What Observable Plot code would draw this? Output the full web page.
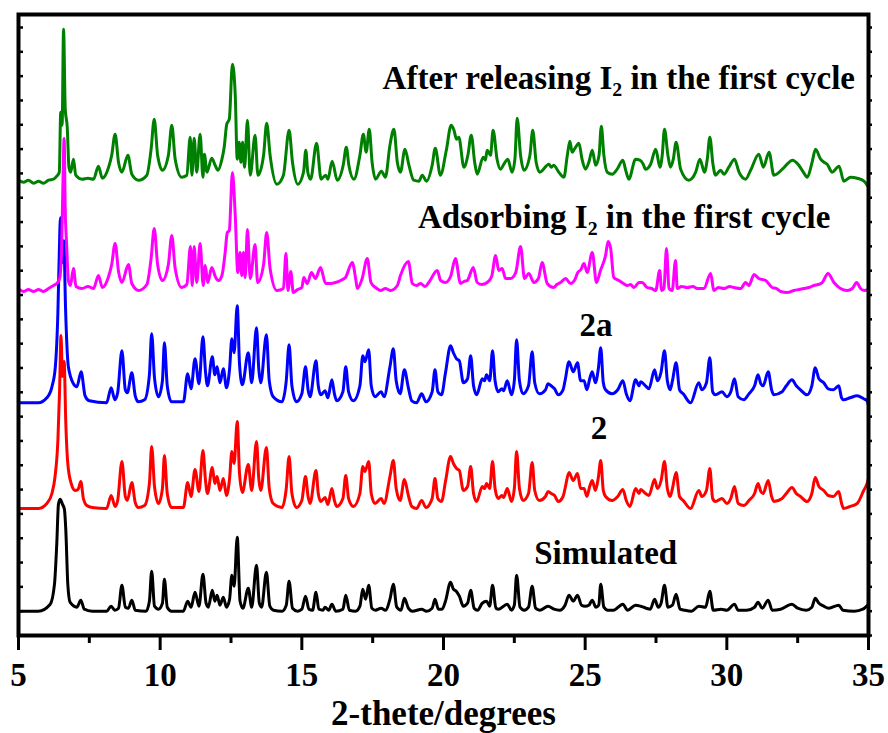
<!DOCTYPE html>
<html>
<head>
<meta charset="utf-8">
<script src="https://cdn.jsdelivr.net/npm/d3@7"></script>
<script src="https://cdn.jsdelivr.net/npm/@observablehq/plot@0.6"></script>
<style>
  html, body { margin: 0; padding: 0; background: #fff; }
  #chart { width: 888px; height: 733px; }
</style>
</head>
<body>
<div id="chart"></div>
<script>
// Powder XRD patterns, [2θ (deg), intensity above the pattern's own baseline (a.u.)]
const simulated = [
  [5,0],[5.7,0],[6.12,7],[6.27,27],[6.35,67],[6.41,107],[6.47,112],[6.55,107],[6.62,102],[6.67,81],[6.74,27],[6.82,9],[7.06,4],[7.2,11],[7.32,2],[7.6,0],
  [8.11,0],[8.27,5],[8.4,1],[8.53,3],[8.65,26],[8.77,4],[8.88,3],[9.0,11],[9.12,1],[9.5,0],[9.62,10],[9.7,40],[9.8,5],[9.94,2],[10.08,8],[10.15,32],[10.25,4],[10.4,0],
  [10.82,0],[10.97,10],[11.09,4],[11.23,19],[11.37,5],[11.51,37],[11.62,8],[11.7,4],[11.84,21],[11.93,10],[12.01,16],[12.11,6],[12.23,14],[12.34,4],[12.45,12],[12.53,36],[12.61,25],[12.72,74],[12.82,10],[12.92,3],
  [13.11,23],[13.23,4],[13.4,46],[13.5,8],[13.58,4],[13.75,39],[13.87,5],[14.0,1],[14.3,0],[14.45,6],[14.55,30],[14.67,3],[14.85,0],[15.0,2],[15.13,15],[15.25,2],[15.38,1],[15.5,19],[15.6,2],[15.75,1],[15.82,4],[15.95,1],
  [16.06,7],[16.2,0],[16.45,2],[16.55,16],[16.68,1],[16.9,0],[17.05,5],[17.15,22],[17.25,12],[17.36,26],[17.47,3],[17.6,1],[17.8,3],[17.95,1],[18.11,12],[18.23,27],[18.35,4],[18.5,1],[18.62,13],[18.76,3],[18.9,0],
  [19.23,2],[19.4,0],[19.6,3],[19.7,12],[19.82,2],[19.95,2],[20.07,10],[20.25,29],[20.35,22],[20.45,20],[20.56,15],[20.7,5],[20.85,8],[20.96,21],[21.08,3],[21.2,1],[21.37,8],[21.52,10],[21.63,5],[21.73,26],[21.85,3],[21.95,2],
  [22.25,7],[22.4,1],[22.5,6],[22.58,36],[22.7,4],[22.85,1],[23.0,4],[23.13,25],[23.25,3],[23.4,1],[23.69,5],[23.9,2],[24.1,1],[24.29,6],[24.43,16],[24.58,10],[24.73,16],[24.87,6],[25.0,5],[25.13,6],[25.25,11],[25.38,4],[25.48,6],[25.55,27],[25.66,4],[25.8,1],
  [26.0,1],[26.33,7],[26.5,1],[26.78,6],[26.96,5],[27.15,3],[27.3,2],[27.45,12],[27.58,4],[27.68,8],[27.8,26],[27.92,4],[28.08,6],[28.21,17],[28.35,2],[28.5,1],[28.75,0],[29.01,5],[29.25,4],[29.4,20],[29.52,1],[29.8,2],
  [30.0,1],[30.27,7],[30.4,1],[30.7,1],[30.98,4],[31.1,9],[31.25,3],[31.46,11],[31.6,1],[31.9,2],[32.3,7],[32.5,3],[32.8,1],[33.0,4],[33.12,13],[33.25,8],[33.42,5],[33.6,3],[33.95,6],[34.1,1],[34.5,0],[34.8,2],[35.0,7]
];

const compound2 = [
  [5,0],[5.7,0],[6.0,5],[6.18,15],[6.29,32],[6.39,68],[6.45,118],[6.5,173],[6.55,132],[6.61,147],[6.67,85],[6.74,45],[6.86,25],[7.0,18],[7.1,19],[7.2,27],[7.29,10],[7.41,3],[7.6,1],
  [8.11,0],[8.27,13],[8.41,2],[8.5,8],[8.65,47],[8.77,12],[8.84,8],[9.0,26],[9.12,6],[9.23,1],[9.45,3],[9.62,25],[9.7,62],[9.8,22],[9.94,5],[10.08,20],[10.15,53],[10.25,15],[10.4,1],
  [10.82,1],[10.97,26],[11.09,12],[11.23,39],[11.37,17],[11.51,58],[11.6,28],[11.67,15],[11.84,41],[11.93,25],[12.01,32],[12.11,18],[12.23,30],[12.34,13],[12.45,30],[12.53,57],[12.61,45],[12.72,87],[12.8,35],[12.9,16],
  [13.11,44],[13.23,18],[13.4,67],[13.48,30],[13.55,18],[13.75,61],[13.85,20],[13.99,5],[14.3,1],[14.45,20],[14.55,52],[14.65,15],[14.81,1],[15.0,8],[15.13,32],[15.22,12],[15.29,5],[15.5,38],[15.58,15],[15.67,7],[15.82,11],[15.92,4],
  [16.06,20],[16.15,8],[16.23,2],[16.45,10],[16.55,33],[16.65,10],[16.82,2],[17.05,15],[17.15,42],[17.23,37],[17.36,47],[17.45,15],[17.58,5],[17.8,10],[17.9,5],[18.11,32],[18.23,48],[18.33,20],[18.47,8],[18.62,29],[18.76,13],[18.88,2],
  [19.05,0],[19.23,8],[19.38,1],[19.6,10],[19.7,30],[19.8,10],[19.93,7],[20.07,27],[20.25,52],[20.35,45],[20.46,40],[20.56,38],[20.7,18],[20.85,22],[20.96,42],[21.06,15],[21.17,7],[21.37,22],[21.45,20],[21.52,25],[21.63,20],[21.73,47],[21.82,20],[21.93,10],
  [22.06,13],[22.12,11],[22.25,20],[22.4,7],[22.5,20],[22.58,57],[22.68,20],[22.81,8],[23.0,15],[23.13,46],[23.22,18],[23.38,8],[23.6,12],[23.69,17],[23.8,15],[23.92,13],[24.05,7],[24.22,12],[24.29,20],[24.43,36],[24.58,28],[24.73,35],[24.84,20],[24.96,20],
  [25.06,12],[25.16,22],[25.25,28],[25.36,18],[25.46,30],[25.55,48],[25.64,18],[25.72,12],[25.95,8],[26.15,12],[26.33,19],[26.45,8],[26.58,2],[26.78,20],[26.9,15],[26.96,19],[27.13,15],[27.25,13],[27.45,29],[27.55,20],[27.68,28],[27.8,47],[27.9,20],[28.0,12],
  [28.08,20],[28.21,36],[28.33,12],[28.46,8],[28.72,0],[29.01,18],[29.12,12],[29.28,18],[29.4,40],[29.5,10],[29.6,7],[29.83,10],[30.0,5],[30.14,10],[30.27,22],[30.4,5],[30.6,3],[30.78,8],[30.98,15],[31.1,25],[31.2,17],[31.28,15],[31.46,28],[31.58,12],[31.66,7],
  [31.95,10],[32.1,15],[32.3,21],[32.45,15],[32.6,12],[32.83,7],[33.0,15],[33.12,31],[33.25,22],[33.42,18],[33.58,13],[33.76,12],[33.95,17],[34.05,5],[34.12,0],[34.35,2],[34.6,5],[34.83,18],[34.95,25],[35.0,30]
];

const compound2a = [
  [5,0],[5.7,0],[6.0,5],[6.18,16],[6.3,36],[6.39,90],[6.44,150],[6.48,185],[6.53,140],[6.6,162],[6.66,95],[6.76,36],[6.94,19],[7.06,16],[7.21,31],[7.35,7],[7.5,2],
  [8.11,0],[8.27,15],[8.4,3],[8.5,10],[8.65,52],[8.77,13],[8.84,10],[9.0,30],[9.12,7],[9.23,1],[9.45,3],[9.62,28],[9.7,69],[9.8,25],[9.94,6],[10.08,22],[10.15,60],[10.25,17],[10.4,1],
  [10.82,1],[10.97,29],[11.09,14],[11.23,44],[11.37,19],[11.51,66],[11.6,31],[11.67,17],[11.84,46],[11.93,28],[12.01,36],[12.11,20],[12.23,34],[12.34,15],[12.45,34],[12.53,64],[12.61,50],[12.72,97],[12.8,39],[12.9,18],
  [13.11,50],[13.23,20],[13.4,75],[13.48,34],[13.55,20],[13.75,68],[13.85,22],[13.99,6],[14.3,1],[14.45,22],[14.55,58],[14.65,17],[14.81,1],[15.0,9],[15.13,36],[15.22,13],[15.29,6],[15.5,42],[15.58,17],[15.67,8],[15.82,12],[15.92,5],
  [16.06,23],[16.15,9],[16.23,2],[16.45,11],[16.55,36],[16.65,11],[16.82,2],[17.05,17],[17.15,47],[17.23,41],[17.36,53],[17.45,17],[17.58,6],[17.8,11],[17.9,6],[18.11,36],[18.23,54],[18.33,22],[18.47,9],[18.62,33],[18.76,15],[18.88,2],
  [19.05,0],[19.23,9],[19.38,1],[19.6,11],[19.7,33],[19.8,11],[19.93,8],[20.07,30],[20.25,57],[20.35,50],[20.46,44],[20.56,42],[20.7,20],[20.85,24],[20.96,47],[21.06,17],[21.17,8],[21.37,24],[21.45,22],[21.52,28],[21.63,22],[21.73,52],[21.82,22],[21.93,11],
  [22.06,14],[22.12,12],[22.25,22],[22.4,8],[22.5,22],[22.58,63],[22.68,22],[22.81,9],[23.0,17],[23.13,51],[23.22,20],[23.38,9],[23.6,13],[23.69,19],[23.8,17],[23.92,14],[24.05,8],[24.22,13],[24.29,22],[24.43,41],[24.58,31],[24.73,40],[24.84,22],[24.96,22],
  [25.06,13],[25.16,24],[25.25,31],[25.36,20],[25.46,33],[25.55,55],[25.64,20],[25.72,13],[25.95,9],[26.15,13],[26.33,22],[26.45,9],[26.58,2],[26.78,23],[26.9,17],[26.96,21],[27.13,17],[27.25,14],[27.45,33],[27.55,22],[27.68,31],[27.8,52],[27.9,22],[28.0,13],
  [28.08,22],[28.21,40],[28.33,13],[28.46,9],[28.72,0],[29.01,20],[29.12,13],[29.28,20],[29.4,45],[29.5,11],[29.6,8],[29.83,11],[30.0,6],[30.14,11],[30.27,24],[30.4,6],[30.6,3],[30.78,9],[30.98,17],[31.1,28],[31.2,19],[31.28,17],[31.46,31],[31.58,13],[31.66,8],
  [31.95,11],[32.1,17],[32.3,23],[32.45,17],[32.6,13],[32.83,8],[33.0,17],[33.12,35],[33.25,24],[33.42,20],[33.58,14],[33.76,13],[33.95,17],[34.05,5],[34.12,3],[34.35,5],[34.6,7],[34.83,4],[34.95,2],[35.0,-3]
];

const adsorbing = [
  [5.0,2],[5.18,-1],[5.35,1],[5.53,-1],[5.71,1],[5.88,-1],[6.06,2],[6.24,5],[6.35,7],[6.45,12],[6.52,40],[6.57,110],[6.61,152],[6.65,80],[6.7,45],[6.76,10],[6.83,5],[6.94,22],[7.03,4],[7.24,2],[7.45,4],[7.65,2],
  [7.82,15],[7.96,3],[8.18,14],[8.29,26],[8.41,47],[8.53,19],[8.65,8],[8.88,26],[9.0,7],[9.24,0],[9.53,6],[9.68,32],[9.79,62],[9.91,26],[10.08,10],[10.29,26],[10.41,55],[10.53,22],[10.76,3],[10.94,6],
  [11.07,44],[11.13,5],[11.2,44],[11.29,8],[11.41,47],[11.52,5],[11.59,25],[11.68,8],[11.82,23],[11.96,13],[12.06,10],[12.18,15],[12.29,37],[12.37,58],[12.44,60],[12.55,118],[12.65,75],[12.74,18],[12.82,38],[12.88,15],[12.94,38],[13.0,13],
  [13.08,61],[13.18,12],[13.35,46],[13.44,8],[13.65,26],[13.76,58],[13.88,22],[14.12,0],[14.35,2],[14.44,37],[14.51,0],[14.61,19],[14.7,-2],[14.85,1],[15.0,3],[15.07,13],[15.19,7],[15.34,18],[15.48,12],[15.66,23],[15.84,7],
  [16.01,7],[16.19,8],[16.37,10],[16.54,13],[16.78,28],[16.91,10],[16.96,2],[17.13,12],[17.31,32],[17.44,8],[17.6,3],[17.78,0],[17.95,2],[18.13,0],[18.37,5],[18.48,15],[18.76,29],[18.9,7],[19.05,5],[19.19,7],[19.35,4],[19.48,8],
  [19.78,20],[19.9,10],[20.07,8],[20.25,14],[20.42,32],[20.6,7],[20.72,9],[20.84,10],[21.05,23],[21.19,8],[21.35,6],[21.54,8],[21.7,14],[21.84,35],[21.95,20],[22.07,22],[22.19,12],[22.37,12],[22.55,18],[22.72,44],[22.86,12],[23.01,17],
  [23.19,8],[23.35,12],[23.48,28],[23.66,7],[23.89,3],[24.0,6],[24.13,8],[24.31,12],[24.48,7],[24.62,10],[24.74,18],[24.85,21],[24.96,27],[25.07,18],[25.25,38],[25.4,8],[25.54,20],[25.72,35],[25.81,49],[25.9,42],[26.01,13],[26.19,10],
  [26.35,7],[26.49,5],[26.6,6],[26.72,3],[26.9,8],[27.01,8],[27.19,3],[27.35,2],[27.49,0],[27.63,20],[27.7,0],[27.78,2],[27.87,42],[27.96,2],[28.07,0],[28.19,30],[28.25,2],[28.4,4],[28.6,3],[28.8,4],[28.96,2],[29.19,2],
  [29.43,17],[29.54,0],[29.7,3],[29.9,2],[30.1,4],[30.25,3],[30.49,2],[30.66,8],[30.78,5],[30.96,16],[31.13,12],[31.37,10],[31.6,3],[31.75,2],[31.9,-1],[32.13,-2],[32.37,0],[32.55,1],[32.72,2],[32.9,3],[33.07,5],[33.23,6],
  [33.37,8],[33.57,17],[33.78,8],[34.01,2],[34.25,0],[34.43,2],[34.58,8],[34.72,2],[34.85,0],[35.0,1]
];

const released = [
  [5.0,1],[5.18,-1],[5.35,1],[5.53,-2],[5.71,0],[5.88,-2],[6.06,1],[6.24,2],[6.35,5],[6.44,9],[6.49,69],[6.54,56],[6.59,152],[6.65,72],[6.72,54],[6.78,14],[6.84,9],[6.94,22],[7.02,6],[7.24,2],[7.45,3],[7.65,2],
  [7.82,15],[7.96,3],[8.18,14],[8.29,26],[8.41,47],[8.53,19],[8.65,9],[8.86,26],[9.0,7],[9.24,1],[9.53,6],[9.68,32],[9.79,62],[9.91,26],[10.08,11],[10.29,26],[10.41,56],[10.53,22],[10.76,4],[10.94,6],
  [11.06,44],[11.12,6],[11.2,43],[11.29,9],[11.41,47],[11.51,4],[11.56,27],[11.65,9],[11.82,23],[11.94,16],[12.04,11],[12.18,22],[12.26,34],[12.35,57],[12.44,62],[12.55,117],[12.65,86],[12.72,22],[12.79,39],[12.85,19],[12.91,39],[12.98,14],
  [13.08,61],[13.18,6],[13.35,46],[13.45,6],[13.65,26],[13.76,58],[13.88,26],[14.12,-3],[14.35,6],[14.55,51],[14.67,19],[14.86,-3],[15.06,9],[15.14,31],[15.21,9],[15.31,2],[15.52,38],[15.68,2],[15.84,6],[15.92,2],
  [16.07,20],[16.25,1],[16.46,16],[16.57,34],[16.66,16],[16.84,2],[17.05,26],[17.17,47],[17.27,29],[17.38,52],[17.48,19],[17.6,2],[17.81,10],[17.95,4],[18.11,36],[18.25,52],[18.37,19],[18.48,9],[18.64,32],[18.78,16],[18.95,1],
  [19.13,0],[19.25,6],[19.4,0],[19.6,16],[19.71,33],[19.89,6],[20.1,31],[20.27,56],[20.37,51],[20.46,42],[20.54,44],[20.72,14],[20.86,26],[20.98,46],[21.1,19],[21.19,7],[21.4,24],[21.48,21],[21.54,31],[21.66,26],[21.75,51],[21.89,22],
  [22.01,12],[22.13,17],[22.27,22],[22.42,9],[22.52,22],[22.6,63],[22.72,26],[22.84,11],[23.05,26],[23.15,51],[23.27,19],[23.4,9],[23.72,17],[23.8,14],[23.89,16],[24.07,9],[24.25,4],[24.37,26],[24.46,40],[24.54,29],[24.62,32],[24.78,38],
  [24.89,22],[25.01,12],[25.13,19],[25.25,31],[25.37,16],[25.49,26],[25.57,55],[25.66,26],[25.78,9],[25.96,7],[26.13,12],[26.33,21],[26.43,11],[26.54,2],[26.78,22],[26.93,21],[27.05,17],[27.13,12],[27.31,17],[27.49,32],[27.64,14],[27.72,26],
  [27.8,52],[27.92,26],[28.01,14],[28.11,22],[28.21,39],[28.37,12],[28.66,1],[28.9,9],[29.05,22],[29.21,9],[29.31,22],[29.4,44],[29.51,17],[29.6,6],[29.78,11],[29.9,7],[30.07,14],[30.27,22],[30.43,9],[30.66,2],[30.84,11],[31.13,27],
  [31.29,14],[31.49,29],[31.66,6],[31.96,12],[32.13,17],[32.31,21],[32.54,16],[32.7,9],[32.84,4],[33.01,19],[33.13,32],[33.31,22],[33.43,19],[33.54,17],[33.72,9],[33.96,15],[34.13,0],[34.37,4],[34.6,3],[34.84,0],[35.0,-6]
];

// Stacking: each pattern is lifted by its own offset (same a.u. as the intensities)
const patternNames   = ["Simulated", "2", "2a", "Adsorbing I\u2082 in the first cycle", "After releasing I\u2082 in the first cycle"];
const patternColors  = ["#000000", "#ff0000", "#0000ff", "#ff00ff", "#008000"];
const patternOffsets = [24.3, 127, 232.7, 345, 454.3];
const patternData    = [simulated, compound2, compound2a, adsorbing, released];

// Label anchors (2θ, a.u.) for the pattern names
const labelX = [23.2, 25.2, 24.8, 19.1, 17.85];
const labelY = [82, 207, 310, 418, 557];

const xMajor = [5, 10, 15, 20, 25, 30, 35];
const xMinor = [7.5, 12.5, 17.5, 22.5, 27.5, 32.5];
const yTicks = d3.range(0, 621, 24.32);

const rows = patternData.flatMap((pts, i) =>
  pts.map(([x, h]) => ({pattern: patternNames[i], x, y: patternOffsets[i] + h}))
);
const labels = patternNames.map((name, i) => ({name, x: labelX[i], y: labelY[i]}));

const serif = "'Liberation Serif', 'Times New Roman', serif";

const chart = Plot.plot({
  width: 888,
  height: 733,
  marginLeft: 18,
  marginRight: 20,
  marginTop: 14,
  marginBottom: 98,
  style: {fontFamily: serif, fontWeight: "bold", background: "#fff", color: "#000"},
  x: {domain: [5, 35]},
  y: {domain: [0, 621], axis: null},
  color: {domain: patternNames, range: patternColors},
  marks: [
    ...patternNames.map(name =>
      Plot.line(rows.filter(d => d.pattern === name), {
        x: "x", y: "y", stroke: "pattern", strokeWidth: 3, curve: "monotone-x",
        strokeLinejoin: "round", strokeLinecap: "round"
      })
    ),
    Plot.text(labels, {
      x: "x", y: "y", text: "name", textAnchor: "start", fontSize: 33, fontWeight: "bold", fill: "#000"
    }),
    // inward ticks on the left edge, outward on the right edge
    Plot.tickY(yTicks, {y: d => d, insetRight: 845, strokeWidth: 2.5}),
    Plot.tickY(yTicks, {y: d => d, insetLeft: 850, insetRight: -4, strokeWidth: 2.5}),
    Plot.axisX({ticks: xMajor, tickSize: 15, tickPadding: 12, strokeWidth: 3, fontSize: 33, label: null}),
    Plot.axisX({ticks: xMinor, tickSize: 8, tickFormat: () => "", strokeWidth: 3, label: null}),
    Plot.frame({strokeWidth: 4}),
    Plot.text(["2-thete/degrees"], {
      frameAnchor: "bottom", lineAnchor: "middle", dy: 78, fontSize: 35, fontWeight: "bold", fill: "#000"
    })
  ]
});

document.getElementById("chart").append(chart);
</script>
</body>
</html>
